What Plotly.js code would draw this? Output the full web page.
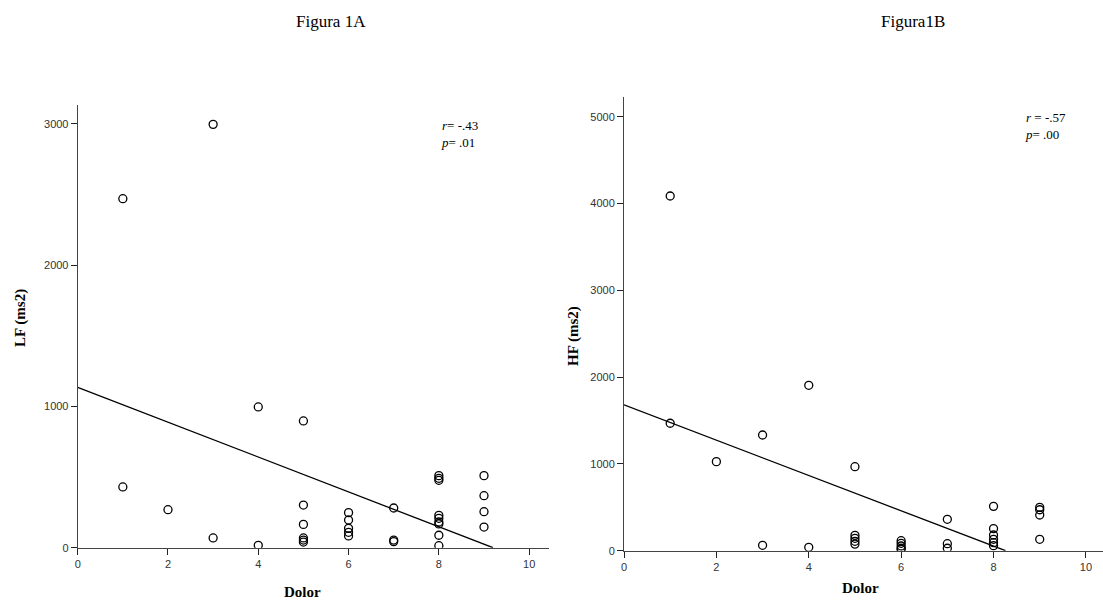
<!DOCTYPE html>
<html>
<head>
<meta charset="utf-8">
<script src="https://cdn.plot.ly/plotly-3.0.1.min.js"></script>
<style>html,body{margin:0;padding:0;background:#fff}#chart{width:1103px;height:604px}</style>
</head>
<body>
<div id="chart"></div>
<script>
// Figura 1A: Dolor vs LF (ms2)
const dolorA = [1, 3, 4, 1, 2, 3, 4, 5, 5, 5, 5, 5, 5, 6, 6, 6, 6, 6, 7, 7, 7, 8, 8, 8, 8, 8, 8, 8, 8, 8, 9, 9, 9, 9];
const lfA    = [2470, 2996, 996, 430, 269, 69, 17, 897, 302, 165, 69, 54, 40, 248, 196, 137, 109, 83, 281, 54, 43, 510, 491, 477, 229, 208, 182, 168, 88, 14, 510, 368, 255, 146];
const fitXA = [0, 9.2];
const fitYA = [1135, 0];

// Figura 1B: Dolor vs HF (ms2)
const dolorB = [1, 1, 2, 3, 4, 3, 4, 5, 5, 5, 5, 5, 6, 6, 6, 6, 6, 7, 7, 7, 8, 8, 8, 8, 8, 8, 9, 9, 9, 9];
const hfB    = [4086, 1468, 1026, 1333, 1905, 62, 39, 968, 177, 143, 108, 76, 115, 85, 54, 28, 16, 362, 81, 28, 511, 254, 181, 131, 92, 58, 500, 472, 411, 131];
const fitXB = [0, 8.26];
const fitYB = [1680, 0];

const xTicks = [0, 2, 4, 6, 8, 10];
const yTicksA = [0, 1000, 2000, 3000];
const yTicksB = [0, 1000, 2000, 3000, 4000, 5000];

const W = 1103, H = 604;
const px = v => v / W;
const py = v => 1 - v / H;

const marker = {symbol: 'circle-open', size: 8, color: '#000', line: {width: 1.3, color: '#000'}};
const fitLine = {color: '#000', width: 1.3};

const traces = [
  {x: dolorA, y: lfA, type: 'scatter', mode: 'markers', marker: marker, xaxis: 'x', yaxis: 'y', hoverinfo: 'x+y'},
  {x: fitXA, y: fitYA, type: 'scatter', mode: 'lines', line: fitLine, xaxis: 'x', yaxis: 'y'},
  {x: dolorB, y: hfB, type: 'scatter', mode: 'markers', marker: marker, xaxis: 'x2', yaxis: 'y2'},
  {x: fitXB, y: fitYB, type: 'scatter', mode: 'lines', line: fitLine, xaxis: 'x2', yaxis: 'y2'}
];

const tickFont = {family: 'Liberation Sans, Arial, sans-serif', size: 11, color: '#333'};
const axBase = {
  showgrid: false, zeroline: false, showline: true, linecolor: '#444', linewidth: 1,
  ticks: 'outside', ticklen: 6, tickwidth: 1, tickcolor: '#222',
  tickfont: tickFont, fixedrange: true
};

const layout = {
  width: W, height: H,
  margin: {l: 0, r: 0, t: 0, b: 0},
  paper_bgcolor: '#fff', plot_bgcolor: '#fff',
  showlegend: false,
  xaxis: Object.assign({}, axBase, {domain: [px(77.7), px(549)], range: [0, 10.44], tickvals: xTicks, anchor: 'y'}),
  yaxis: Object.assign({}, axBase, {domain: [py(547.7), py(105)], range: [0, 3133], tickvals: yTicksA, anchor: 'x'}),
  xaxis2: Object.assign({}, axBase, {domain: [px(624), px(1103)], range: [0, 10.37], tickvals: xTicks, anchor: 'y2'}),
  yaxis2: Object.assign({}, axBase, {domain: [py(550.7), py(96.7)], range: [0, 5230], tickvals: yTicksB, anchor: 'x2'}),
  annotations: [
    {text: 'Figura 1A', xref: 'paper', yref: 'paper', x: px(331), y: py(22), showarrow: false, xanchor: 'center', yanchor: 'middle',
     font: {family: 'Liberation Serif, Times New Roman, serif', size: 17, color: '#000'}},
    {text: 'Figura1B', xref: 'paper', yref: 'paper', x: px(913), y: py(22), showarrow: false, xanchor: 'center', yanchor: 'middle',
     font: {family: 'Liberation Serif, Times New Roman, serif', size: 17, color: '#000'}},
    {text: '<b>LF (ms2)</b>', xref: 'paper', yref: 'paper', x: px(20), y: py(318), textangle: -90, showarrow: false, xanchor: 'center', yanchor: 'middle',
     font: {family: 'Liberation Serif, Times New Roman, serif', size: 15, color: '#000'}},
    {text: '<b>HF (ms2)</b>', xref: 'paper', yref: 'paper', x: px(573), y: py(336), textangle: -90, showarrow: false, xanchor: 'center', yanchor: 'middle',
     font: {family: 'Liberation Serif, Times New Roman, serif', size: 15, color: '#000'}},
    {text: '<b>Dolor</b>', xref: 'paper', yref: 'paper', x: px(302), y: py(592), showarrow: false, xanchor: 'center', yanchor: 'middle',
     font: {family: 'Liberation Serif, Times New Roman, serif', size: 15, color: '#000'}},
    {text: '<b>Dolor</b>', xref: 'paper', yref: 'paper', x: px(860), y: py(588), showarrow: false, xanchor: 'center', yanchor: 'middle',
     font: {family: 'Liberation Serif, Times New Roman, serif', size: 15, color: '#000'}},
    {text: '<i>r</i>= -.43<br><i>p</i>= .01', xref: 'paper', yref: 'paper', x: px(439), y: py(116), showarrow: false, xanchor: 'left', yanchor: 'top', align: 'left',
     font: {family: 'Liberation Serif, Times New Roman, serif', size: 13, color: '#000'}},
    {text: '<i>r</i> = -.57<br><i>p</i>= .00', xref: 'paper', yref: 'paper', x: px(1023), y: py(108), showarrow: false, xanchor: 'left', yanchor: 'top', align: 'left',
     font: {family: 'Liberation Serif, Times New Roman, serif', size: 13, color: '#000'}}
  ]
};

Plotly.newPlot('chart', traces, layout, {displayModeBar: false, staticPlot: true});
</script>
</body>
</html>
